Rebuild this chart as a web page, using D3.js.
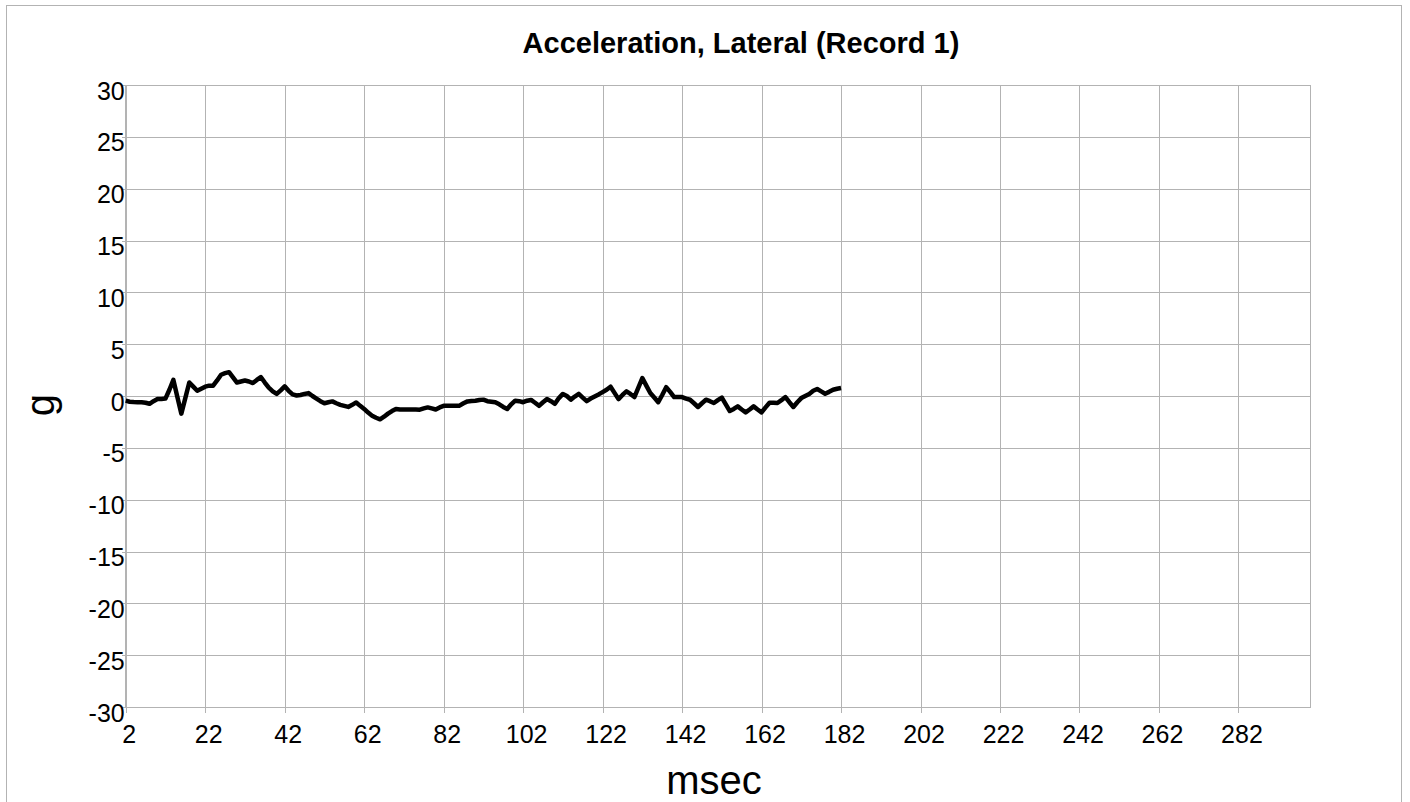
<!DOCTYPE html>
<html>

<head>
	<title>Acceleration, Lateral</title>
	<meta charset="utf-8">
	<script src="https://d3js.org/d3.v7.min.js" charset="utf-8"></script>
	<style type="text/css">
		body {
			margin: 0;
			background: #fff;
		}

		svg text {
			font-family: 'Liberation Sans', Arial, sans-serif;
			fill: #000;
		}

		.grid line,
		.frame {
			stroke: #b3b3b3;
			stroke-width: 1px;
			shape-rendering: crispEdges;
		}

		.axis path {
			display: none;
		}

		.axis line {
			stroke: #b3b3b3;
			shape-rendering: crispEdges;
		}

		.axis text {
			font-size: 25px;
		}
	</style>
</head>

<body>
	<script type="text/javascript">
		var w = 1410;
		var h = 802;

		// chart data
		var msecStart = 2; // first sample, one sample per msec
		var lateralG = [
			-0.45, -0.55, -0.58, -0.6, -0.6, -0.65, -0.75, -0.5, -0.3, -0.28,   // 2-11
			-0.25, 0.6, 1.55, -0.1, -1.7, -0.2, 1.3, 0.9, 0.5, 0.7,            // 12-21
			0.9, 1.0, 1.0, 1.5, 2.05, 2.2, 2.3, 1.8, 1.3, 1.4,                  // 22-31
			1.5, 1.4, 1.25, 1.55, 1.83, 1.3, 0.8, 0.45, 0.2, 0.55,             // 32-41
			0.93, 0.5, 0.15, 0.05, 0.1, 0.2, 0.28, 0.0, -0.25, -0.5,           // 42-51
			-0.7, -0.6, -0.52, -0.7, -0.85, -0.95, -1.05, -0.85, -0.62, -0.95, // 52-61
			-1.25, -1.6, -1.9, -2.1, -2.25, -2.0, -1.7, -1.45, -1.25, -1.3,    // 62-71
			-1.3, -1.3, -1.3, -1.3, -1.32, -1.2, -1.1, -1.2, -1.3, -1.1,       // 72-81
			-0.95, -0.95, -0.95, -0.95, -0.93, -0.7, -0.52, -0.48, -0.45, -0.38, // 82-91
			-0.35, -0.5, -0.55, -0.6, -0.8, -1.05, -1.25, -0.8, -0.45, -0.5,   // 92-101
			-0.6, -0.45, -0.38, -0.65, -0.95, -0.6, -0.3, -0.5, -0.75, -0.2,   // 102-111
			0.2, 0.0, -0.35, -0.05, 0.2, -0.15, -0.5, -0.25, -0.05, 0.15,      // 112-121
			0.38, 0.6, 0.9, 0.3, -0.3, 0.1, 0.45, 0.2, -0.1, 0.8,              // 122-131
			1.73, 1.0, 0.29, -0.15, -0.6, 0.1, 0.85, 0.4, -0.1, -0.1,          // 132-141
			-0.1, -0.25, -0.36, -0.7, -1.06, -0.7, -0.36, -0.5, -0.68, -0.4,   // 142-151
			-0.15, -0.8, -1.45, -1.25, -1.0, -1.3, -1.58, -1.3, -1.0, -1.3,    // 152-161
			-1.58, -1.1, -0.65, -0.65, -0.68, -0.4, -0.1, -0.6, -1.06, -0.6,   // 162-171
			-0.2, 0.0, 0.2, 0.5, 0.67, 0.45, 0.22, 0.4, 0.6, 0.7,              // 172-181
			0.77                                                              // 182
		];
		var xTicks = [2, 22, 42, 62, 82, 102, 122, 142, 162, 182, 202, 222, 242, 262, 282];
		var yTicks = [30, 25, 20, 15, 10, 5, 0, -5, -10, -15, -20, -25, -30];
		var xDomain = [2, 300];
		var yDomain = [-30, 30];

		// plot area edges (window.top is taken, so prefixed names)
		var plotLeft = 125.7, plotRight = 1310, plotTop = 85, plotBottom = 707;

		var x = d3.scaleLinear().domain(xDomain).range([plotLeft, plotRight]);
		var y = d3.scaleLinear().domain(yDomain).range([plotBottom, plotTop]);

		// plain hyphen for negatives, like the original
		var plainNum = function (d) { return String(d); };

		var svg = d3.select('body')
			.append('svg')
			.attr('width', w)
			.attr('height', h);

		// outer border
		svg.append('rect')
			.attr('class', 'frame')
			.attr('x', 6)
			.attr('y', 5)
			.attr('width', 1395)
			.attr('height', h + 10)
			.attr('fill', 'none');

		// grid
		svg.append('g')
			.attr('class', 'grid')
			.attr('transform', 'translate(0,' + plotBottom + ')')
			.call(d3.axisBottom(x).tickValues(xTicks).tickSize(-(plotBottom - plotTop)).tickFormat(''))
			.select('.domain').remove();

		svg.append('g')
			.attr('class', 'grid')
			.attr('transform', 'translate(' + plotLeft + ',0)')
			.call(d3.axisLeft(y).tickValues(yTicks).tickSize(-(plotRight - plotLeft)).tickFormat(''))
			.select('.domain').remove();

		// plot frame
		svg.append('rect')
			.attr('class', 'frame')
			.attr('x', plotLeft)
			.attr('y', plotTop)
			.attr('width', plotRight - plotLeft)
			.attr('height', plotBottom - plotTop)
			.attr('fill', 'none');

		// axes
		var xAxis = svg.append('g')
			.attr('class', 'axis')
			.attr('transform', 'translate(0,' + plotBottom + ')')
			.call(d3.axisBottom(x).tickValues(xTicks).tickFormat(plainNum).tickSize(6).tickPadding(12));
		xAxis.selectAll('text').attr('dx', 3);

		var yAxis = svg.append('g')
			.attr('class', 'axis')
			.attr('transform', 'translate(' + plotLeft + ',0)')
			.call(d3.axisLeft(y).tickValues(yTicks).tickFormat(plainNum).tickSize(4).tickPadding(-3));
		yAxis.selectAll('text').attr('dy', '0.56em');

		// the series
		var line = d3.line()
			.x(function (d, i) { return x(msecStart + i); })
			.y(function (d) { return y(d); });

		svg.append('path')
			.datum(lateralG)
			.attr('d', line)
			.attr('fill', 'none')
			.attr('stroke', '#000')
			.attr('stroke-width', 4.5)
			.attr('stroke-linejoin', 'round');

		// titles
		svg.append('text')
			.text('Acceleration, Lateral (Record 1)')
			.attr('x', 741)
			.attr('y', 53)
			.attr('text-anchor', 'middle')
			.style('font-size', '29px')
			.style('font-weight', 'bold');

		svg.append('text')
			.text('msec')
			.attr('x', 714)
			.attr('y', 794)
			.attr('text-anchor', 'middle')
			.style('font-size', '40px');

		svg.append('text')
			.text('g')
			.attr('transform', 'translate(54,405) rotate(-90)')
			.attr('text-anchor', 'middle')
			.style('font-size', '40px');
	</script>
</body>

</html>
